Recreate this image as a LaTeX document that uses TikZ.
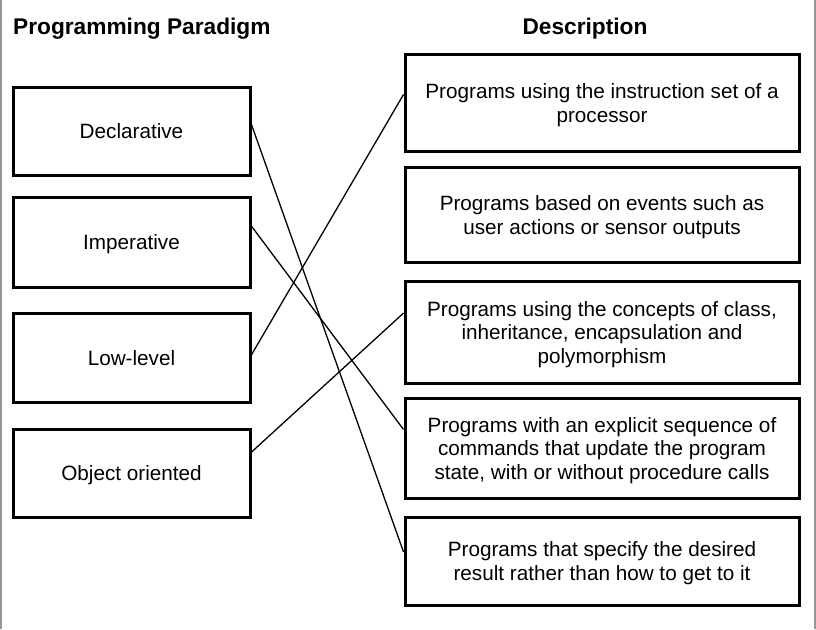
\documentclass[tikz,border=0pt]{standalone}
\usepackage{fontspec}
\setmainfont{Liberation Sans}
\usetikzlibrary{calc}
\begin{document}
\begin{tikzpicture}[x=1pt,y=-1pt,
  box/.style={draw,line width=3pt,inner sep=0pt,align=center,font=\fontsize{20.7}{23.8}\selectfont},
  leftbox/.style={box,minimum width=237pt,text height=20pt,text depth=4.5pt},
  rightbox/.style={draw,line width=3pt,inner sep=0pt,minimum width=394pt},
  txt/.style={align=center,inner sep=0pt,font=\fontsize{20.7}{23.8}\selectfont,yshift=-2.5pt},
  link/.style={line width=1.3pt},
  head/.style={font=\bfseries\fontsize{22.7}{26}\selectfont,inner sep=0pt}]
\fill[white] (0,0) rectangle (816,629);
\useasboundingbox (0,0) rectangle (816,629);
\fill[gray!85] (0,0) rectangle (2,629);
\fill[gray!85] (814,0) rectangle (816,629);
\node[head,anchor=west] (h1) at (13,28.5) {Programming Paradigm};
\node[head] (h2) at (585,28.5) {Description};
% left
\node[leftbox,minimum height=88pt] (decl) at (131.5,131) {Declarative};
\node[leftbox,minimum height=90pt] (imp) at (131.5,242) {Imperative};
\node[leftbox,minimum height=89pt] (low) at (131.5,357.5) {Low-level};
\node[leftbox,minimum height=88pt] (oo) at (131.5,473) {Object oriented};
% right
\node[rightbox,minimum height=97pt,label={[txt]center:{Programs using the instruction set of a\\processor}}] (b1) at (602,102.5) {};
\node[rightbox,minimum height=95pt,label={[txt]center:{Programs based on events such as\\user actions or sensor outputs}}] (b2) at (602,214.5) {};
\node[rightbox,minimum height=102pt,label={[txt]center:{Programs using the concepts of class,\\inheritance, encapsulation and\\polymorphism}}] (b3) at (602,332) {};
\node[rightbox,minimum height=100pt,label={[txt]center:{Programs with an explicit sequence of\\commands that update the program\\state, with or without procedure calls}}] (b4) at (602,448) {};
\node[rightbox,minimum height=88pt,label={[txt]center:{Programs that specify the desired\\result rather than how to get to it}}] (b5) at (602,561) {};
% links
\draw[link] ($(decl.north east)!0.43!(decl.south east)$) -- ($(b5.north west)!0.4!(b5.south west)$);
\draw[link] ($(imp.north east)!0.33!(imp.south east)$) -- ($(b4.north west)!0.32!(b4.south west)$);
\draw[link] ($(low.north east)!0.47!(low.south east)$) -- ($(b1.north west)!0.42!(b1.south west)$);
\draw[link] ($(oo.north east)!0.27!(oo.south east)$) -- ($(b3.north west)!0.32!(b3.south west)$);
\end{tikzpicture}
\end{document}
